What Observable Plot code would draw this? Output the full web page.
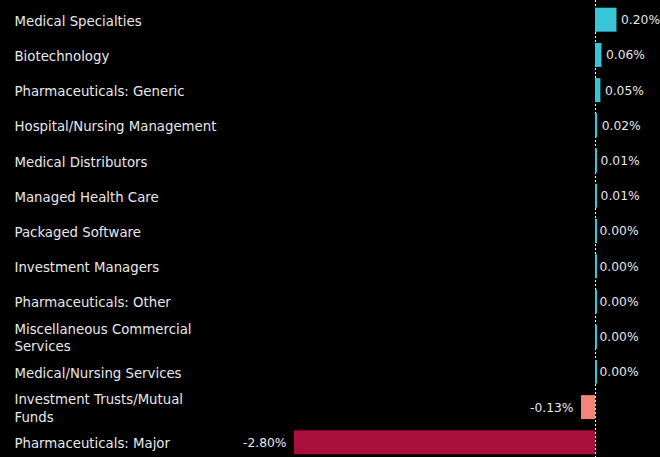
<!DOCTYPE html>
<html><head><meta charset="utf-8">
<script src="https://cdn.jsdelivr.net/npm/d3@7"></script>
<script src="https://cdn.jsdelivr.net/npm/@observablehq/plot@0.6"></script>
<style>html,body{margin:0;padding:0;background:#000;overflow:hidden}</style>
</head><body><div id="chart"></div>
<script>
const categories = [
  "Medical Specialties",
  "Biotechnology",
  "Pharmaceuticals: Generic",
  "Hospital/Nursing Management",
  "Medical Distributors",
  "Managed Health Care",
  "Packaged Software",
  "Investment Managers",
  "Pharmaceuticals: Other",
  "Miscellaneous Commercial\nServices",
  "Medical/Nursing Services",
  "Investment Trusts/Mutual\nFunds",
  "Pharmaceuticals: Major"
];
const values = [0.20, 0.06, 0.05, 0.02, 0.01, 0.01, 0.00, 0.00, 0.00, 0.00, 0.00, -0.13, -2.80];

const data = categories.map((c, i) => ({name: c, value: values[i]}));
const fmt = v => v.toFixed(2) + "%";
const pos = data.filter(d => d.value >= 0);
const neg = data.filter(d => d.value < 0);

const chart = Plot.plot({
  width: 660, height: 462,
  marginTop: 0, marginBottom: 0, marginLeft: 0, marginRight: 0,
  style: {background: "#000", fontFamily: "'DejaVu Sans', sans-serif", fontSize: "13.3px", color: "#e8e8e8"},
  x: {domain: [-2.8, 0.2], range: [294, 616.5], axis: null},
  y: {domain: categories, paddingInner: 0.32, paddingOuter: 0.219, round: false, axis: null},
  color: {type: "threshold", domain: [-1, 0], range: ["#a90f3b", "#f2857a", "#38c6d6"]},
  marks: [
    Plot.ruleX([0], {stroke: "#fff", strokeDasharray: "2,2", strokeWidth: 1}),
    Plot.barX(data, {x: "value", y: "name", fill: "value"}),
    Plot.tickX(pos, {x: 0, y: "name", stroke: "#38c6d6", strokeWidth: 2, dx: 0.5}),
    Plot.text(pos, {x: "value", y: "name", text: d => fmt(d.value), textAnchor: "start", dx: 4, fontSize: 12.3, fill: "#e8e8e8"}),
    Plot.text(neg, {x: "value", y: "name", text: d => fmt(d.value), textAnchor: "end", dx: -8, fontSize: 12.3, fill: "#e8e8e8"}),
    Plot.text(data, {y: "name", text: "name", frameAnchor: "left", dx: 14, textAnchor: "start", fill: "#e8e8e8", lineHeight: 1.3})
  ]
});
document.getElementById("chart").appendChild(chart);
</script>
</body></html>
